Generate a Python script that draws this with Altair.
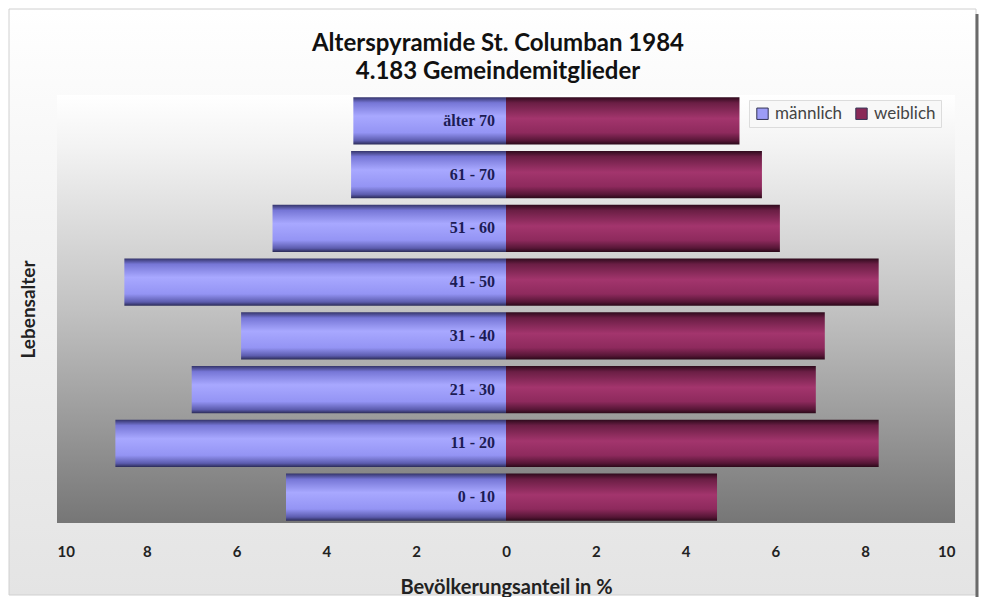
import altair as alt
import pandas as pd

# Data
age_groups = ["älter 70", "61 - 70", "51 - 60", "41 - 50", "31 - 40", "21 - 30", "11 - 20", "0 - 10"]
male_pct = [3.4, 3.45, 5.2, 8.5, 5.9, 7.0, 8.7, 4.9]
female_pct = [5.2, 5.7, 6.1, 8.3, 7.1, 6.9, 8.3, 4.7]
sex_labels = ["männlich", "weiblich"]
x_ticks = [-10, -8, -6, -4, -2, 0, 2, 4, 6, 8, 10]

W, H = 898, 428
PAD = {"left": 49, "top": 87, "right": 24, "bottom": 74}

male = pd.DataFrame({"age": age_groups, "value": [-v for v in male_pct], "sex": sex_labels[0]})
female = pd.DataFrame({"age": age_groups, "value": female_pct, "sex": sex_labels[1]})
both = pd.concat([male, female])
labels_df = pd.DataFrame({"age": age_groups, "zero": [0] * len(age_groups)})

x_scale = alt.Scale(domain=[-10, 10], nice=False)
y_scale = alt.Scale(domain=age_groups, paddingInner=0.12, paddingOuter=0.04)

x_axis = alt.Axis(values=x_ticks, labelExpr="abs(datum.value)", grid=False, ticks=False,
                  domain=False, labelPadding=21, labelFont="Lato", labelFontWeight="bold",
                  labelFontSize=15, labelColor="#222222", title="Bevölkerungsanteil in %",
                  titleFont="Lato", titleFontSize=20, titleFontWeight="bold",
                  titleColor="#222222", titlePadding=18, zindex=2)
y_axis = alt.Axis(labels=False, ticks=False, domain=False, grid=False, title="Lebensalter",
                  titleFont="Lato", titleFontSize=19, titleFontWeight="bold",
                  titleColor="#222222", titlePadding=19, zindex=2)

outer_bg = alt.Chart(labels_df.head(1)).mark_rect(
    fill=alt.LinearGradient(gradient="linear", x1=0, x2=0, y1=0, y2=1,
                            stops=[alt.GradientStop(offset=0, color="#ffffff"),
                                   alt.GradientStop(offset=0.35, color="#f4f4f4"),
                                   alt.GradientStop(offset=1, color="#e4e4e4")]),
    stroke="#d0d0d0", strokeWidth=1
).encode(x=alt.value(-PAD["left"] + 1), x2=alt.value(W + PAD["right"] - 3),
         y=alt.value(-PAD["top"] + 1), y2=alt.value(H + PAD["bottom"] - 2))

frame_edge = alt.Chart(labels_df.head(1)).mark_rule(color="#6a6a6a", strokeWidth=3).encode(
    x=alt.value(W + PAD["right"] - 2), y=alt.value(-PAD["top"] + 6), y2=alt.value(H + PAD["bottom"]))

plot_bg = alt.Chart(labels_df.head(1)).mark_rect(
    fill=alt.LinearGradient(gradient="linear", x1=0, x2=0, y1=0, y2=1,
                            stops=[alt.GradientStop(offset=0, color="#ffffff"),
                                   alt.GradientStop(offset=0.12, color="#f3f3f3"),
                                   alt.GradientStop(offset=0.5, color="#c2c2c2"),
                                   alt.GradientStop(offset=1, color="#767676")])
).encode(x=alt.value(0), x2=alt.value(W), y=alt.value(0), y2=alt.value(H))

male_bars = alt.Chart(male).mark_bar(
    fill=alt.LinearGradient(gradient="linear", x1=0, x2=0, y1=0, y2=1,
                            stops=[alt.GradientStop(offset=0, color="#34346a"),
                                   alt.GradientStop(offset=0.12, color="#7676d6"),
                                   alt.GradientStop(offset=0.4, color="#a8a8ff"),
                                   alt.GradientStop(offset=0.75, color="#9494f4"),
                                   alt.GradientStop(offset=0.92, color="#5c5cae"),
                                   alt.GradientStop(offset=1, color="#2a2a55")])
).encode(x=alt.X("value:Q", scale=x_scale, axis=x_axis), x2=alt.datum(0),
         y=alt.Y("age:N", scale=y_scale, axis=y_axis, sort=age_groups))

female_bars = alt.Chart(female).mark_bar(
    fill=alt.LinearGradient(gradient="linear", x1=0, x2=0, y1=0, y2=1,
                            stops=[alt.GradientStop(offset=0, color="#2e0a1c"),
                                   alt.GradientStop(offset=0.12, color="#6a1e44"),
                                   alt.GradientStop(offset=0.45, color="#a3356d"),
                                   alt.GradientStop(offset=0.75, color="#8e2a5d"),
                                   alt.GradientStop(offset=0.92, color="#561636"),
                                   alt.GradientStop(offset=1, color="#2a0818")])
).encode(x=alt.X("value:Q", scale=x_scale, axis=x_axis), x2=alt.datum(0),
         y=alt.Y("age:N", scale=y_scale, axis=y_axis, sort=age_groups))

legend_layer = alt.Chart(both).mark_square(opacity=0, size=10).encode(
    x=alt.X("value:Q", scale=x_scale, axis=x_axis),
    y=alt.Y("age:N", scale=y_scale, axis=y_axis, sort=age_groups),
    color=alt.Color("sex:N", scale=alt.Scale(domain=sex_labels, range=["#9c9cf6", "#8a2a58"]),
                    legend=alt.Legend(title=None, orient="none", legendX=692, legendY=5,
                                      direction="horizontal", symbolType="square",
                                      symbolSize=130, symbolOpacity=1,
                                      symbolStrokeColor="#333355", symbolStrokeWidth=1,
                                      labelFont="Lato", labelFontSize=17, labelColor="#444444",
                                      columnPadding=10, labelOffset=4,
                                      fillColor="#f8f8f8", strokeColor="#dcdcdc",
                                      padding=5, cornerRadius=0, zindex=3)))

age_text = alt.Chart(labels_df).mark_text(
    align="right", baseline="middle", dx=-11, font="Liberation Serif", fontSize=16,
    fontWeight="bold", color="#1c1c55"
).encode(x=alt.X("zero:Q", scale=x_scale, axis=x_axis),
         y=alt.Y("age:N", scale=y_scale, axis=y_axis, sort=age_groups),
         text="age:N")

chart = alt.layer(outer_bg, frame_edge, plot_bg, male_bars, female_bars, legend_layer, age_text).properties(
    width=W, height=H,
    autosize=alt.AutoSizeParams(type="none"),
    padding=PAD,
    title=alt.Title(["Alterspyramide St. Columban 1984", "4.183 Gemeindemitglieder"],
                    font="Lato", fontSize=24, fontWeight="bold", color="#111111",
                    anchor="middle", offset=0, lineHeight=28, dx=-8, dy=75)
).configure_view(stroke=None).configure(background="#ffffff")

chart.save("out.html", embed_options={"renderer": "svg", "actions": False})
